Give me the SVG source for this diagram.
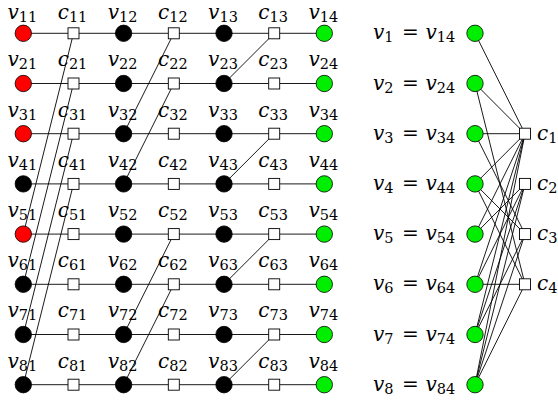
<svg xmlns="http://www.w3.org/2000/svg" width="558" height="401" viewBox="0 0 558 401">
<style>
.e{stroke:#000;stroke-width:0.9;fill:none}
.r{fill:#ff0000;stroke:#000;stroke-width:0.8}
.b{fill:#000;stroke:#000;stroke-width:0.8}
.g{fill:#00ee00;stroke:#000;stroke-width:0.8}
.q{fill:#fff;stroke:#000;stroke-width:0.9}
text{font-family:"DejaVu Serif",serif;font-size:20px;fill:#000}
.l{text-anchor:middle}
.i{font-style:italic}
.s{font-size:14.5px;font-style:normal}
</style>
<rect width="558" height="401" fill="#fff"/>
<g id="connectors">
<line class="e" x1="23.3" y1="33.3" x2="324.3" y2="33.3"/>
<line class="e" x1="23.3" y1="83.5" x2="324.3" y2="83.5"/>
<line class="e" x1="23.3" y1="133.7" x2="324.3" y2="133.7"/>
<line class="e" x1="23.3" y1="183.9" x2="324.3" y2="183.9"/>
<line class="e" x1="23.3" y1="234.1" x2="324.3" y2="234.1"/>
<line class="e" x1="23.3" y1="284.3" x2="324.3" y2="284.3"/>
<line class="e" x1="23.3" y1="334.5" x2="324.3" y2="334.5"/>
<line class="e" x1="23.3" y1="384.7" x2="324.3" y2="384.7"/>
<line class="e" x1="73.5" y1="33.3" x2="23.3" y2="234.1"/>
<line class="e" x1="73.5" y1="83.5" x2="23.3" y2="284.3"/>
<line class="e" x1="73.5" y1="133.7" x2="23.3" y2="334.5"/>
<line class="e" x1="73.5" y1="183.9" x2="23.3" y2="384.7"/>
<line class="e" x1="173.8" y1="33.3" x2="123.6" y2="133.7"/>
<line class="e" x1="173.8" y1="83.5" x2="123.6" y2="183.9"/>
<line class="e" x1="173.8" y1="234.1" x2="123.6" y2="334.5"/>
<line class="e" x1="173.8" y1="284.3" x2="123.6" y2="384.7"/>
<line class="e" x1="274.2" y1="33.3" x2="224" y2="83.5"/>
<line class="e" x1="274.2" y1="133.7" x2="224" y2="183.9"/>
<line class="e" x1="274.2" y1="234.1" x2="224" y2="284.3"/>
<line class="e" x1="274.2" y1="334.5" x2="224" y2="384.7"/>
<line class="e" x1="475" y1="33.3" x2="525" y2="133.7"/>
<line class="e" x1="475" y1="83.5" x2="525" y2="133.7"/>
<line class="e" x1="475" y1="133.7" x2="525" y2="133.7"/>
<line class="e" x1="475" y1="183.9" x2="525" y2="133.7"/>
<line class="e" x1="475" y1="234.1" x2="525" y2="133.7"/>
<line class="e" x1="475" y1="284.3" x2="525" y2="133.7"/>
<line class="e" x1="475" y1="334.5" x2="525" y2="133.7"/>
<line class="e" x1="475" y1="384.7" x2="525" y2="133.7"/>
<line class="e" x1="475" y1="234.1" x2="525" y2="183.9"/>
<line class="e" x1="475" y1="284.3" x2="525" y2="183.9"/>
<line class="e" x1="475" y1="334.5" x2="525" y2="183.9"/>
<line class="e" x1="475" y1="384.7" x2="525" y2="183.9"/>
<line class="e" x1="475" y1="133.7" x2="525" y2="234.1"/>
<line class="e" x1="475" y1="183.9" x2="525" y2="234.1"/>
<line class="e" x1="475" y1="334.5" x2="525" y2="234.1"/>
<line class="e" x1="475" y1="384.7" x2="525" y2="234.1"/>
<line class="e" x1="475" y1="83.5" x2="525" y2="284.3"/>
<line class="e" x1="475" y1="183.9" x2="525" y2="284.3"/>
<line class="e" x1="475" y1="284.3" x2="525" y2="284.3"/>
<line class="e" x1="475" y1="384.7" x2="525" y2="284.3"/>
</g>
<!-- row 1 -->
<g id="v11"><circle class="r" cx="23.3" cy="33.3" r="8.2"/><text class="l" x="22.3" y="18.6"><tspan class="i">v</tspan><tspan class="s" dy="3">11</tspan></text></g>
<g id="c11"><rect class="q" x="68" y="27.8" width="11" height="11"/><text class="l" x="72.5" y="18.6"><tspan class="i">c</tspan><tspan class="s" dy="3">11</tspan></text></g>
<g id="v12"><circle class="b" cx="123.6" cy="33.3" r="8.2"/><text class="l" x="122.6" y="18.6"><tspan class="i">v</tspan><tspan class="s" dy="3">12</tspan></text></g>
<g id="c12"><rect class="q" x="168.3" y="27.8" width="11" height="11"/><text class="l" x="172.8" y="18.6"><tspan class="i">c</tspan><tspan class="s" dy="3">12</tspan></text></g>
<g id="v13"><circle class="b" cx="224" cy="33.3" r="8.2"/><text class="l" x="223" y="18.6"><tspan class="i">v</tspan><tspan class="s" dy="3">13</tspan></text></g>
<g id="c13"><rect class="q" x="268.7" y="27.8" width="11" height="11"/><text class="l" x="273.2" y="18.6"><tspan class="i">c</tspan><tspan class="s" dy="3">13</tspan></text></g>
<g id="v14"><circle class="g" cx="324.3" cy="33.3" r="8.2"/><text class="l" x="323.3" y="18.6"><tspan class="i">v</tspan><tspan class="s" dy="3">14</tspan></text></g>
<!-- row 2 -->
<g id="v21"><circle class="r" cx="23.3" cy="83.5" r="8.2"/><text class="l" x="22.3" y="66.4"><tspan class="i">v</tspan><tspan class="s" dy="3">21</tspan></text></g>
<g id="c21"><rect class="q" x="68" y="78" width="11" height="11"/><text class="l" x="72.5" y="66.4"><tspan class="i">c</tspan><tspan class="s" dy="3">21</tspan></text></g>
<g id="v22"><circle class="b" cx="123.6" cy="83.5" r="8.2"/><text class="l" x="122.6" y="66.4"><tspan class="i">v</tspan><tspan class="s" dy="3">22</tspan></text></g>
<g id="c22"><rect class="q" x="168.3" y="78" width="11" height="11"/><text class="l" x="172.8" y="66.4"><tspan class="i">c</tspan><tspan class="s" dy="3">22</tspan></text></g>
<g id="v23"><circle class="b" cx="224" cy="83.5" r="8.2"/><text class="l" x="223" y="66.4"><tspan class="i">v</tspan><tspan class="s" dy="3">23</tspan></text></g>
<g id="c23"><rect class="q" x="268.7" y="78" width="11" height="11"/><text class="l" x="273.2" y="66.4"><tspan class="i">c</tspan><tspan class="s" dy="3">23</tspan></text></g>
<g id="v24"><circle class="g" cx="324.3" cy="83.5" r="8.2"/><text class="l" x="323.3" y="66.4"><tspan class="i">v</tspan><tspan class="s" dy="3">24</tspan></text></g>
<!-- row 3 -->
<g id="v31"><circle class="r" cx="23.3" cy="133.7" r="8.2"/><text class="l" x="22.3" y="116.6"><tspan class="i">v</tspan><tspan class="s" dy="3">31</tspan></text></g>
<g id="c31"><rect class="q" x="68" y="128.2" width="11" height="11"/><text class="l" x="72.5" y="116.6"><tspan class="i">c</tspan><tspan class="s" dy="3">31</tspan></text></g>
<g id="v32"><circle class="b" cx="123.6" cy="133.7" r="8.2"/><text class="l" x="122.6" y="116.6"><tspan class="i">v</tspan><tspan class="s" dy="3">32</tspan></text></g>
<g id="c32"><rect class="q" x="168.3" y="128.2" width="11" height="11"/><text class="l" x="172.8" y="116.6"><tspan class="i">c</tspan><tspan class="s" dy="3">32</tspan></text></g>
<g id="v33"><circle class="b" cx="224" cy="133.7" r="8.2"/><text class="l" x="223" y="116.6"><tspan class="i">v</tspan><tspan class="s" dy="3">33</tspan></text></g>
<g id="c33"><rect class="q" x="268.7" y="128.2" width="11" height="11"/><text class="l" x="273.2" y="116.6"><tspan class="i">c</tspan><tspan class="s" dy="3">33</tspan></text></g>
<g id="v34"><circle class="g" cx="324.3" cy="133.7" r="8.2"/><text class="l" x="323.3" y="116.6"><tspan class="i">v</tspan><tspan class="s" dy="3">34</tspan></text></g>
<!-- row 4 -->
<g id="v41"><circle class="b" cx="23.3" cy="183.9" r="8.2"/><text class="l" x="22.3" y="166.8"><tspan class="i">v</tspan><tspan class="s" dy="3">41</tspan></text></g>
<g id="c41"><rect class="q" x="68" y="178.4" width="11" height="11"/><text class="l" x="72.5" y="166.8"><tspan class="i">c</tspan><tspan class="s" dy="3">41</tspan></text></g>
<g id="v42"><circle class="b" cx="123.6" cy="183.9" r="8.2"/><text class="l" x="122.6" y="166.8"><tspan class="i">v</tspan><tspan class="s" dy="3">42</tspan></text></g>
<g id="c42"><rect class="q" x="168.3" y="178.4" width="11" height="11"/><text class="l" x="172.8" y="166.8"><tspan class="i">c</tspan><tspan class="s" dy="3">42</tspan></text></g>
<g id="v43"><circle class="b" cx="224" cy="183.9" r="8.2"/><text class="l" x="223" y="166.8"><tspan class="i">v</tspan><tspan class="s" dy="3">43</tspan></text></g>
<g id="c43"><rect class="q" x="268.7" y="178.4" width="11" height="11"/><text class="l" x="273.2" y="166.8"><tspan class="i">c</tspan><tspan class="s" dy="3">43</tspan></text></g>
<g id="v44"><circle class="g" cx="324.3" cy="183.9" r="8.2"/><text class="l" x="323.3" y="166.8"><tspan class="i">v</tspan><tspan class="s" dy="3">44</tspan></text></g>
<!-- row 5 -->
<g id="v51"><circle class="r" cx="23.3" cy="234.1" r="8.2"/><text class="l" x="22.3" y="217"><tspan class="i">v</tspan><tspan class="s" dy="3">51</tspan></text></g>
<g id="c51"><rect class="q" x="68" y="228.6" width="11" height="11"/><text class="l" x="72.5" y="217"><tspan class="i">c</tspan><tspan class="s" dy="3">51</tspan></text></g>
<g id="v52"><circle class="b" cx="123.6" cy="234.1" r="8.2"/><text class="l" x="122.6" y="217"><tspan class="i">v</tspan><tspan class="s" dy="3">52</tspan></text></g>
<g id="c52"><rect class="q" x="168.3" y="228.6" width="11" height="11"/><text class="l" x="172.8" y="217"><tspan class="i">c</tspan><tspan class="s" dy="3">52</tspan></text></g>
<g id="v53"><circle class="b" cx="224" cy="234.1" r="8.2"/><text class="l" x="223" y="217"><tspan class="i">v</tspan><tspan class="s" dy="3">53</tspan></text></g>
<g id="c53"><rect class="q" x="268.7" y="228.6" width="11" height="11"/><text class="l" x="273.2" y="217"><tspan class="i">c</tspan><tspan class="s" dy="3">53</tspan></text></g>
<g id="v54"><circle class="g" cx="324.3" cy="234.1" r="8.2"/><text class="l" x="323.3" y="217"><tspan class="i">v</tspan><tspan class="s" dy="3">54</tspan></text></g>
<!-- row 6 -->
<g id="v61"><circle class="b" cx="23.3" cy="284.3" r="8.2"/><text class="l" x="22.3" y="267.2"><tspan class="i">v</tspan><tspan class="s" dy="3">61</tspan></text></g>
<g id="c61"><rect class="q" x="68" y="278.8" width="11" height="11"/><text class="l" x="72.5" y="267.2"><tspan class="i">c</tspan><tspan class="s" dy="3">61</tspan></text></g>
<g id="v62"><circle class="b" cx="123.6" cy="284.3" r="8.2"/><text class="l" x="122.6" y="267.2"><tspan class="i">v</tspan><tspan class="s" dy="3">62</tspan></text></g>
<g id="c62"><rect class="q" x="168.3" y="278.8" width="11" height="11"/><text class="l" x="172.8" y="267.2"><tspan class="i">c</tspan><tspan class="s" dy="3">62</tspan></text></g>
<g id="v63"><circle class="b" cx="224" cy="284.3" r="8.2"/><text class="l" x="223" y="267.2"><tspan class="i">v</tspan><tspan class="s" dy="3">63</tspan></text></g>
<g id="c63"><rect class="q" x="268.7" y="278.8" width="11" height="11"/><text class="l" x="273.2" y="267.2"><tspan class="i">c</tspan><tspan class="s" dy="3">63</tspan></text></g>
<g id="v64"><circle class="g" cx="324.3" cy="284.3" r="8.2"/><text class="l" x="323.3" y="267.2"><tspan class="i">v</tspan><tspan class="s" dy="3">64</tspan></text></g>
<!-- row 7 -->
<g id="v71"><circle class="b" cx="23.3" cy="334.5" r="8.2"/><text class="l" x="22.3" y="317.4"><tspan class="i">v</tspan><tspan class="s" dy="3">71</tspan></text></g>
<g id="c71"><rect class="q" x="68" y="329" width="11" height="11"/><text class="l" x="72.5" y="317.4"><tspan class="i">c</tspan><tspan class="s" dy="3">71</tspan></text></g>
<g id="v72"><circle class="b" cx="123.6" cy="334.5" r="8.2"/><text class="l" x="122.6" y="317.4"><tspan class="i">v</tspan><tspan class="s" dy="3">72</tspan></text></g>
<g id="c72"><rect class="q" x="168.3" y="329" width="11" height="11"/><text class="l" x="172.8" y="317.4"><tspan class="i">c</tspan><tspan class="s" dy="3">72</tspan></text></g>
<g id="v73"><circle class="b" cx="224" cy="334.5" r="8.2"/><text class="l" x="223" y="317.4"><tspan class="i">v</tspan><tspan class="s" dy="3">73</tspan></text></g>
<g id="c73"><rect class="q" x="268.7" y="329" width="11" height="11"/><text class="l" x="273.2" y="317.4"><tspan class="i">c</tspan><tspan class="s" dy="3">73</tspan></text></g>
<g id="v74"><circle class="g" cx="324.3" cy="334.5" r="8.2"/><text class="l" x="323.3" y="317.4"><tspan class="i">v</tspan><tspan class="s" dy="3">74</tspan></text></g>
<!-- row 8 -->
<g id="v81"><circle class="b" cx="23.3" cy="384.7" r="8.2"/><text class="l" x="22.3" y="367.6"><tspan class="i">v</tspan><tspan class="s" dy="3">81</tspan></text></g>
<g id="c81"><rect class="q" x="68" y="379.2" width="11" height="11"/><text class="l" x="72.5" y="367.6"><tspan class="i">c</tspan><tspan class="s" dy="3">81</tspan></text></g>
<g id="v82"><circle class="b" cx="123.6" cy="384.7" r="8.2"/><text class="l" x="122.6" y="367.6"><tspan class="i">v</tspan><tspan class="s" dy="3">82</tspan></text></g>
<g id="c82"><rect class="q" x="168.3" y="379.2" width="11" height="11"/><text class="l" x="172.8" y="367.6"><tspan class="i">c</tspan><tspan class="s" dy="3">82</tspan></text></g>
<g id="v83"><circle class="b" cx="224" cy="384.7" r="8.2"/><text class="l" x="223" y="367.6"><tspan class="i">v</tspan><tspan class="s" dy="3">83</tspan></text></g>
<g id="c83"><rect class="q" x="268.7" y="379.2" width="11" height="11"/><text class="l" x="273.2" y="367.6"><tspan class="i">c</tspan><tspan class="s" dy="3">83</tspan></text></g>
<g id="v84"><circle class="g" cx="324.3" cy="384.7" r="8.2"/><text class="l" x="323.3" y="367.6"><tspan class="i">v</tspan><tspan class="s" dy="3">84</tspan></text></g>
<!-- right graph -->
<g id="v1"><circle class="g" cx="475" cy="33.3" r="8.2"/><text x="373" y="39.3"><tspan class="i">v</tspan><tspan class="s" dy="3">1</tspan><tspan x="402" dy="-3">=</tspan><tspan x="425.5" class="i">v</tspan><tspan class="s" dy="3">14</tspan></text></g>
<g id="v2"><circle class="g" cx="475" cy="83.5" r="8.2"/><text x="373" y="89.5"><tspan class="i">v</tspan><tspan class="s" dy="3">2</tspan><tspan x="402" dy="-3">=</tspan><tspan x="425.5" class="i">v</tspan><tspan class="s" dy="3">24</tspan></text></g>
<g id="v3"><circle class="g" cx="475" cy="133.7" r="8.2"/><text x="373" y="139.7"><tspan class="i">v</tspan><tspan class="s" dy="3">3</tspan><tspan x="402" dy="-3">=</tspan><tspan x="425.5" class="i">v</tspan><tspan class="s" dy="3">34</tspan></text></g>
<g id="v4"><circle class="g" cx="475" cy="183.9" r="8.2"/><text x="373" y="189.9"><tspan class="i">v</tspan><tspan class="s" dy="3">4</tspan><tspan x="402" dy="-3">=</tspan><tspan x="425.5" class="i">v</tspan><tspan class="s" dy="3">44</tspan></text></g>
<g id="v5"><circle class="g" cx="475" cy="234.1" r="8.2"/><text x="373" y="240.1"><tspan class="i">v</tspan><tspan class="s" dy="3">5</tspan><tspan x="402" dy="-3">=</tspan><tspan x="425.5" class="i">v</tspan><tspan class="s" dy="3">54</tspan></text></g>
<g id="v6"><circle class="g" cx="475" cy="284.3" r="8.2"/><text x="373" y="290.3"><tspan class="i">v</tspan><tspan class="s" dy="3">6</tspan><tspan x="402" dy="-3">=</tspan><tspan x="425.5" class="i">v</tspan><tspan class="s" dy="3">64</tspan></text></g>
<g id="v7"><circle class="g" cx="475" cy="334.5" r="8.2"/><text x="373" y="340.5"><tspan class="i">v</tspan><tspan class="s" dy="3">7</tspan><tspan x="402" dy="-3">=</tspan><tspan x="425.5" class="i">v</tspan><tspan class="s" dy="3">74</tspan></text></g>
<g id="v8"><circle class="g" cx="475" cy="384.7" r="8.2"/><text x="373" y="390.7"><tspan class="i">v</tspan><tspan class="s" dy="3">8</tspan><tspan x="402" dy="-3">=</tspan><tspan x="425.5" class="i">v</tspan><tspan class="s" dy="3">84</tspan></text></g>
<g id="c1"><rect class="q" x="519.5" y="128.2" width="11" height="11"/><text x="537" y="139.7"><tspan class="i">c</tspan><tspan class="s" dy="3">1</tspan></text></g>
<g id="c2"><rect class="q" x="519.5" y="178.4" width="11" height="11"/><text x="537" y="189.9"><tspan class="i">c</tspan><tspan class="s" dy="3">2</tspan></text></g>
<g id="c3"><rect class="q" x="519.5" y="228.6" width="11" height="11"/><text x="537" y="240.1"><tspan class="i">c</tspan><tspan class="s" dy="3">3</tspan></text></g>
<g id="c4"><rect class="q" x="519.5" y="278.8" width="11" height="11"/><text x="537" y="290.3"><tspan class="i">c</tspan><tspan class="s" dy="3">4</tspan></text></g>
</svg>
